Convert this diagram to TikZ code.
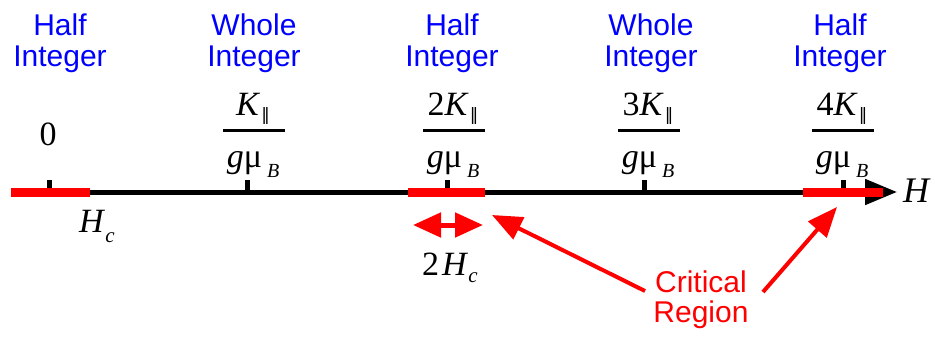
\documentclass[tikz,border=0pt]{standalone}
\usepackage{fontspec}
\setmainfont{Liberation Serif}
\newfontfamily\sansf{Liberation Sans}
\newfontfamily\symf{DejaVu Sans}
\usetikzlibrary{arrows.meta}
\definecolor{lblblue}{RGB}{0,0,255}
\definecolor{crit}{RGB}{255,0,0}
\newcommand{\parsub}{\hspace{1pt}\raisebox{-5pt}{\symf\fontsize{17}{17}\selectfont ‖}}
\newcommand{\denomtxt}{\textit{g}μ\hspace{5pt}\raisebox{-10pt}{\fontsize{20}{20}\selectfont\textit{B}}}
\tikzset{
  lbl/.style={font=\sansf\fontsize{30}{31}\selectfont, text=lblblue, align=center, anchor=north, inner sep=0pt},
  critlbl/.style={font=\sansf\fontsize{30}{30}\selectfont, text=crit, align=center, anchor=north, inner sep=0pt},
  mth/.style={font=\fontsize{34}{34}\selectfont, inner sep=0pt, anchor=base},
  fracbar/.style={line width=3pt},
  axisline/.style={line width=5pt, -{Triangle[length=32pt,width=25pt]}},
  tickmark/.style={line width=5pt},
  critbar/.style={crit, line width=9pt},
  dblarrow/.style={crit, line width=5pt, {Triangle[length=28pt,width=24pt]}-{Triangle[length=28pt,width=24pt]}},
  critarrow/.style={crit, line width=4pt, -{Triangle[length=30pt,width=24pt]}}
}
\begin{document}
\begin{tikzpicture}[x=1pt,y=-1pt]
\useasboundingbox (0,0) rectangle (935,337);
% top labels
\node[lbl] (l0) at (60,13.5) {Half\\Integer};
\node[lbl] (l1) at (254,13.5) {Whole\\Integer};
\node[lbl] (l2) at (452,13.5) {Half\\Integer};
\node[lbl] (l3) at (651,13.5) {Whole\\Integer};
\node[lbl] (l4) at (840,13.5) {Half\\Integer};
% axis
\coordinate (a0) at (11,192);
\coordinate (a1) at (897,192);
\draw[axisline] (a0) -- (a1);
\node[mth, anchor=base west, font=\fontsize{36}{36}\selectfont] (hlab) at (903,202) {\textit{H}};
% ticks
\foreach \i/\x in {0/49,1/247,2/447,3/644,4/843}{
  \coordinate (t\i) at (\x,192);
  \coordinate (tt\i) at (\x,180);
  \draw[tickmark] (t\i) -- (tt\i);
}
% critical bars
\coordinate (r0a) at (11,192);  \coordinate (r0b) at (90,192);
\coordinate (r1a) at (408,192); \coordinate (r1b) at (485,192);
\coordinate (r2a) at (803,192); \coordinate (r2b) at (883,192);
\draw[critbar] (r0a) -- (r0b);
\draw[critbar] (r1a) -- (r1b);
\draw[critbar] (r2a) -- (r2b);
% zero
\node[mth] (zero) at (48,145) {0};
% fractions
\foreach \i/\x/\n in {1/253/{}, 2/453/2, 3/648/3, 4/842/4}{
  \node[mth] (num\i) at (\x,116) {\n\textit{K}\parsub};
  \coordinate (fb\i a) at (\x-30,130);
  \coordinate (fb\i b) at (\x+32,130);
  \draw[fracbar] (fb\i a) -- (fb\i b);
  \node[mth] (den\i) at (\x,167) {\denomtxt};
}
% Hc labels
\node[mth, anchor=base west] (hc) at (79,232) {\textit{H}\raisebox{-10pt}{\fontsize{21}{21}\selectfont\textit{c}}};
\node[mth, anchor=base west] (thc) at (422,275) {2\hspace{3pt}\textit{H}\raisebox{-7pt}{\fontsize{21}{21}\selectfont\textit{c}}};
% double arrow
\coordinate (d0) at (413,225);
\coordinate (d1) at (483,225);
\draw[dblarrow] (d0) -- (d1);
% critical region
\node[critlbl] (crl) at (701,270.5) {Critical\\Region};
\coordinate (cs1) at (645,291);
\coordinate (ce1) at (492,215);
\coordinate (cs2) at (763,292);
\coordinate (ce2) at (837,207);
\draw[critarrow] (cs1) -- (ce1);
\draw[critarrow] (cs2) -- (ce2);
\end{tikzpicture}
\end{document}
